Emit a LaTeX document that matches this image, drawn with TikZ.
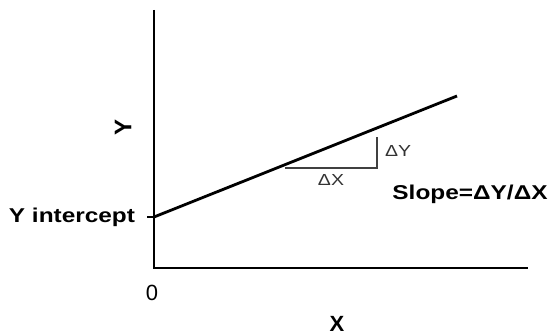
\documentclass[tikz,border=0pt]{standalone}
\usepackage{fontspec}
\setmainfont{Liberation Sans}
\newcommand{\wide}[1]{\scalebox{1.22}[1]{#1}}
\begin{document}
\begin{tikzpicture}[x=1pt,y=-1pt,
  axis/.style={line width=2pt, black},
  mainline/.style={line width=2.8pt, black},
  tri/.style={line width=1.4pt, black!75},
  big/.style={font=\fontsize{20}{22}\selectfont\bfseries, inner sep=0pt, text=black},
  huge/.style={font=\fontsize{22}{24}\selectfont\bfseries, inner sep=0pt, text=black},
  small/.style={font=\fontsize{16}{18}\selectfont, inner sep=0pt, text=black!80},
]
\useasboundingbox (0,0) rectangle (548,336);
% axes
\coordinate (top) at (154,10);
\coordinate (origin) at (154,268);
\coordinate (xend) at (528,268);
\coordinate (yint) at (154,217);
\coordinate (tickl) at (147,217);
\coordinate (lend) at (457,96);
\draw[axis] (top) -- (origin) -- (xend);
\draw[line width=1.2pt] (tickl) -- (yint);
\draw[mainline] (yint) -- (lend);
% slope triangle
\coordinate (ta) at (285,168);
\coordinate (tb) at (377,168);
\coordinate (tc) at (377,137);
\draw[tri] (ta) -- (tb) -- (tc);
% labels
\node[big, anchor=base] (ylab) at (72,223) {\wide{Y intercept}};
\node[font=\fontsize{24}{26}\selectfont\bfseries, inner sep=0pt] (yaxis) at (123,127) {\rotatebox{90}{Y}};
\node[huge, anchor=base] (xaxis) at (337,331) {X};
\node[font=\fontsize{22}{24}\selectfont, inner sep=0pt, anchor=base] (zero) at (152,300) {0};
\node[small, anchor=base west] (dy) at (385,157) {\wide{ΔY}};
\node[small, anchor=base] (dx) at (331,186) {\wide{ΔX}};
\node[big, anchor=base] (slope) at (470,200) {\wide{Slope=ΔY/ΔX}};
\end{tikzpicture}
\end{document}
